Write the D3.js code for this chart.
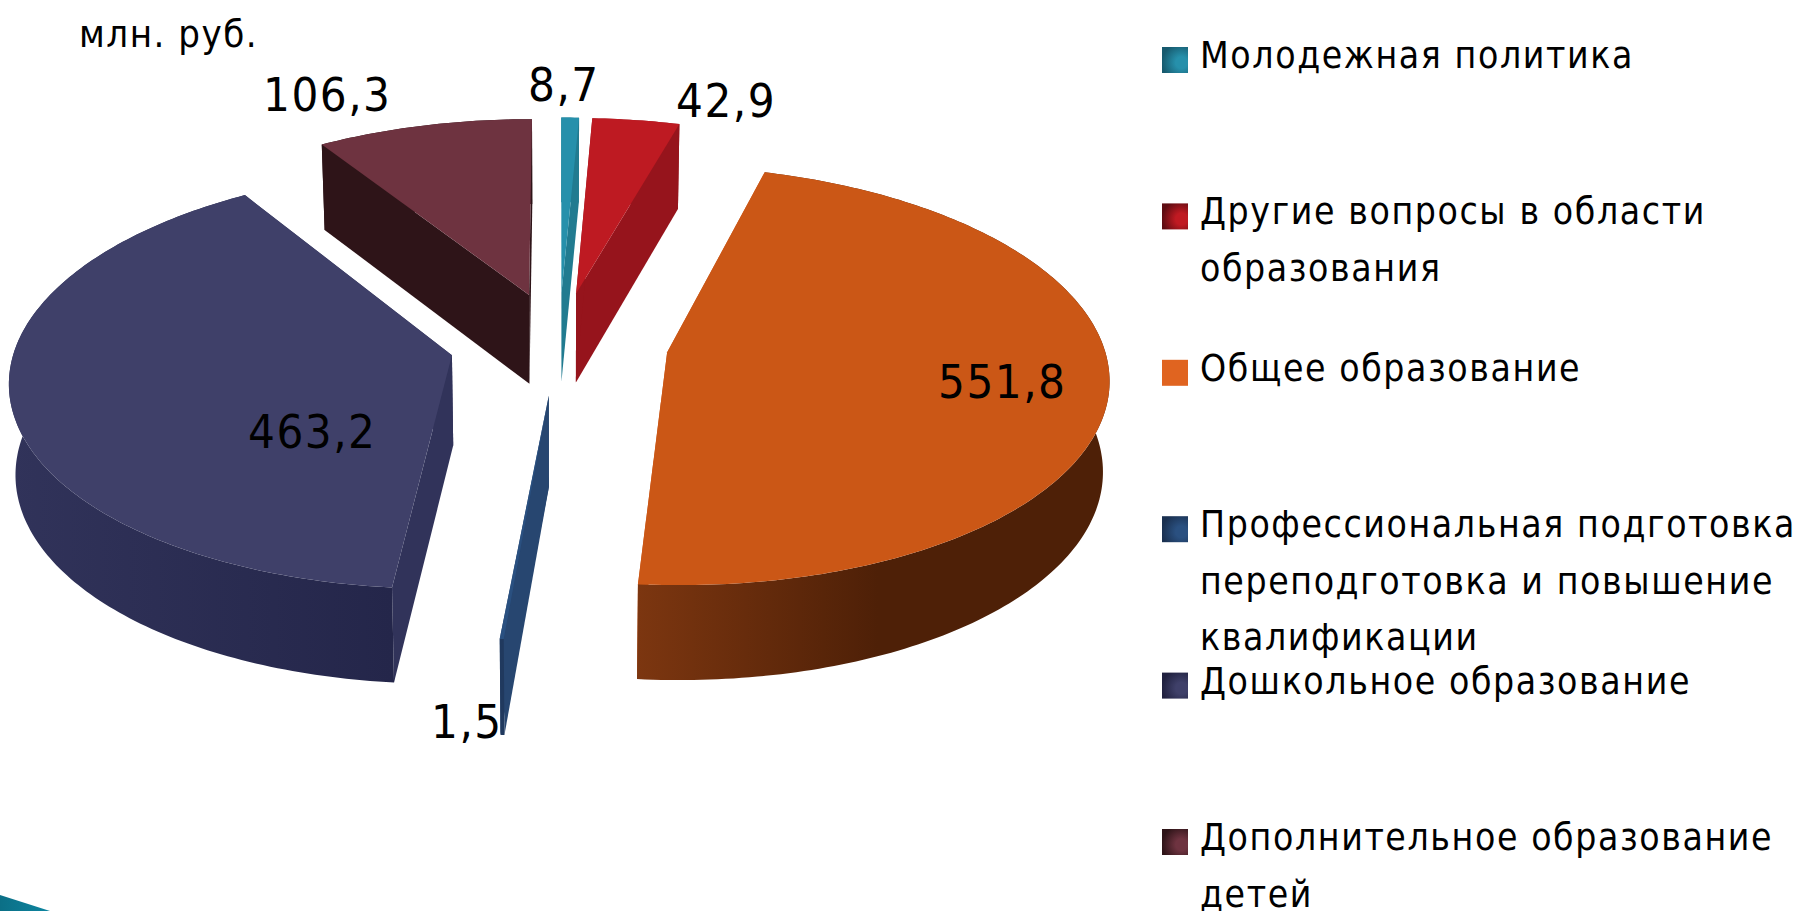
<!DOCTYPE html>
<html><head><meta charset="utf-8">
<style>html,body{margin:0;padding:0;background:#fff;overflow:hidden}
text{font-family:"DejaVu Sans";font-stretch:condensed;fill:#000}</style>
<script src="https://d3js.org/d3.v7.min.js"></script></head>
<body><svg id="c" width="1798" height="911"></svg>
<script>
const categories=["Молодежная политика","Другие вопросы в области образования","Общее образование","Профессиональная подготовка, переподготовка и повышение квалификации","Дошкольное образование","Дополнительное образование детей"];
const values=[8.7,42.9,551.8,1.5,463.2,106.3];
const valueLabels=["8,7","42,9","551,8","1,5","463,2","106,3"];
const legendLines=[["Молодежная политика"],["Другие вопросы в области","образования"],["Общее образование"],["Профессиональная подготовка,","переподготовка и повышение","квалификации"],["Дошкольное образование"],["Дополнительное образование","детей"]];
const topColors=["#2690ab","#be1a22","#cb5716","#2a5080","#3f4069","#6e3340"];
const wallColors=["#217b90","#96141c","#cb5716","#274670","#31335a","#2e1418"];
const rimStart=["#217b90","#96141c","#7c3610","#20395e","#31335a","#2e1418"];
const rimEnd=["#217b90","#96141c","#4e2007","#20395e","#24264a","#2e1418"];
const swatchDark=["#175a6e","#5e0c12","#e06420","#1a3050","#20213f","#2e1418"];
const swatchLight=["#2690ab","#c01a22","#e06420","#2a5080","#3f4069","#6e3340"];
const labelPos=[[528,101],[676,117],[938,398],[431,738],[248,448],[263,111]];
const cx=559,cy=343,rx=436,a=205,b=0.11,H=90,explode=0.251;

const svg=d3.select("#c"),defs=svg.append("defs");
const proj=(u,v,z)=>{const s=1/(1-b*v);
  return [cx+rx*u*s*(1-0.012*z), cy+a*v*s+H*z/(1-0.05*v)];};
const arcs=d3.pie().sort(null).value(d=>d)(values);
const line=d3.line();
const g=svg.append("g");
arcs.forEach((d,i)=>{
  const mid=(d.startAngle+d.endAngle)/2;
  const ou=explode*Math.sin(mid),ov=-explode*Math.cos(mid);
  const at=(r,t,z)=>proj(ou+r*Math.sin(t),ov-r*Math.cos(t),z);
  const n=Math.max(4,Math.ceil((d.endAngle-d.startAngle)*60));
  const ts=d3.range(n+1).map(k=>d.startAngle+(d.endAngle-d.startAngle)*k/n);
  const topPts=ts.map(t=>at(1,t,0));
  const botPts=ts.map(t=>at(1,t,1)).reverse();
  const xs=topPts.map(p=>p[0]);
  const id="rim"+i;
  const lg=defs.append("linearGradient").attr("id",id).attr("gradientUnits","userSpaceOnUse")
    .attr("x1",d3.min(xs)).attr("x2",i==2?d3.min(xs)+240:d3.max(xs)).attr("y1",0).attr("y2",0);
  lg.append("stop").attr("offset",0).attr("stop-color",rimStart[i]);
  lg.append("stop").attr("offset",1).attr("stop-color",rimEnd[i]);
  const wall=t=>[at(0,t,0),at(1,t,0),at(1,t,1),at(0,t,1)];
  const sg=g.append("g");
  sg.append("path").attr("d",line(wall(d.endAngle))+"Z").attr("fill",wallColors[i]);
  sg.append("path").attr("d",line(wall(d.startAngle))+"Z").attr("fill",wallColors[i]);
  sg.append("path").attr("d",line(topPts.concat(botPts))+"Z").attr("fill",`url(#${id})`);
  sg.append("path").attr("d",line([at(0,0,0)].slice(1).concat([at(0,d.startAngle,0)],topPts))+"Z").attr("fill",topColors[i]);
});
const lab=svg.append("g").attr("font-size",47).attr("letter-spacing",1.5);
lab.selectAll("text").data(valueLabels).join("text").text(d=>d)
  .attr("x",(d,i)=>labelPos[i][0]).attr("y",(d,i)=>labelPos[i][1]);
svg.append("text").text("млн. руб.").attr("x",79).attr("y",47).attr("font-size",38).attr("letter-spacing",1.5);

const legY=d3.scaleLinear().domain([0,5]).range([47,829]);
const leg=svg.append("g");
categories.forEach((c,i)=>{
  const id="sw"+i;
  const rg=defs.append("radialGradient").attr("id",id).attr("cx",.75).attr("cy",.6).attr("r",.75);
  rg.append("stop").attr("offset",.3).attr("stop-color",swatchLight[i]);
  rg.append("stop").attr("offset",1).attr("stop-color",swatchDark[i]);
  leg.append("rect").attr("x",1162).attr("y",legY(i)).attr("width",26).attr("height",26).attr("fill",`url(#${id})`);
  legendLines[i].forEach((t,k)=>{
    leg.append("text").text(t).attr("x",1200).attr("y",legY(i)+21+k*56.5)
      .attr("font-size",37).attr("letter-spacing",1.6);
  });
});
const corner=defs.append("linearGradient").attr("id","cornerG");
corner.append("stop").attr("offset",0).attr("stop-color","#0b6f86");
corner.append("stop").attr("offset",1).attr("stop-color","#0d85a0");
svg.append("path").attr("d",line([[0,895],[50,911],[0,911]])+"Z").attr("fill","url(#cornerG)");
</script></body></html>
